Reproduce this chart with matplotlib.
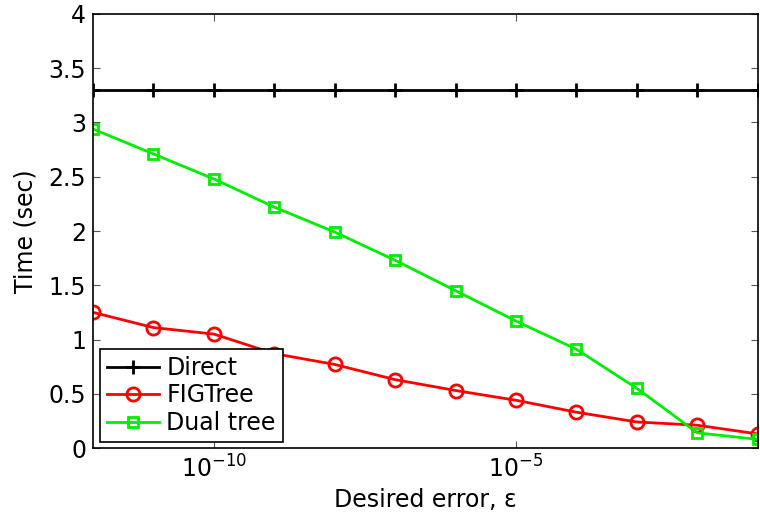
import numpy as np
import matplotlib
matplotlib.use('Agg')
import matplotlib.pyplot as plt
from matplotlib.ticker import FormatStrFormatter, FixedLocator, NullLocator

plt.rcParams['font.family'] = ['DejaVu Sans']

# desired error epsilon, one point per decade
eps = [1e-12, 1e-11, 1e-10, 1e-9, 1e-8, 1e-7, 1e-6, 1e-5, 1e-4, 1e-3, 1e-2, 1e-1]
direct = [3.30] * 12
figtree = [1.25, 1.11, 1.05, 0.87, 0.77, 0.63, 0.53, 0.44, 0.33, 0.24, 0.21, 0.13]
dualtree = [2.94, 2.71, 2.48, 2.22, 1.99, 1.73, 1.45, 1.17, 0.91, 0.55, 0.14, 0.08]

fs = 17

fig = plt.figure(figsize=(7.6, 5.18), dpi=100)
ax = fig.add_axes([0.1224, 0.1351, 0.8746, 0.8379])

ax.plot(eps, direct, color='black', lw=2, marker='+', ms=10, mew=2, label='Direct')
ax.plot(eps, figtree, color='red', lw=2, marker='o', ms=9.5, mew=2, mfc='none', label='FIGTree')
ax.plot(eps, dualtree, color='#00ee00', lw=2, marker='s', ms=7.5, mew=2, mfc='none', label='Dual tree')

ax.set_xscale('log')
ax.set_xlim(1e-12, 1e-1)
ax.set_ylim(0, 4)
ax.xaxis.set_major_locator(FixedLocator([1e-10, 1e-5]))
ax.xaxis.set_minor_locator(NullLocator())
ax.set_yticks(np.arange(0, 4.01, 0.5))
ax.yaxis.set_major_formatter(FormatStrFormatter('%g'))

ax.tick_params(direction='in', length=5, width=0.8, top=True, right=True,
               labelsize=fs, colors='#555555', labelcolor='black', pad=5)
for s in ax.spines.values():
    s.set_linewidth(1.2)

ax.set_xlabel('Desired error, ε', fontsize=fs, labelpad=4)
ax.set_ylabel('Time (sec)', fontsize=fs, labelpad=8)

leg = ax.legend(loc='lower left', bbox_to_anchor=(0.011, 0.014), fontsize=fs,
                fancybox=False, framealpha=1, edgecolor='black', borderpad=0.3,
                labelspacing=0.15, handlelength=2.2, handletextpad=0.3, borderaxespad=0)
leg.get_frame().set_linewidth(1.2)

fig.savefig('out.png', dpi=100)
